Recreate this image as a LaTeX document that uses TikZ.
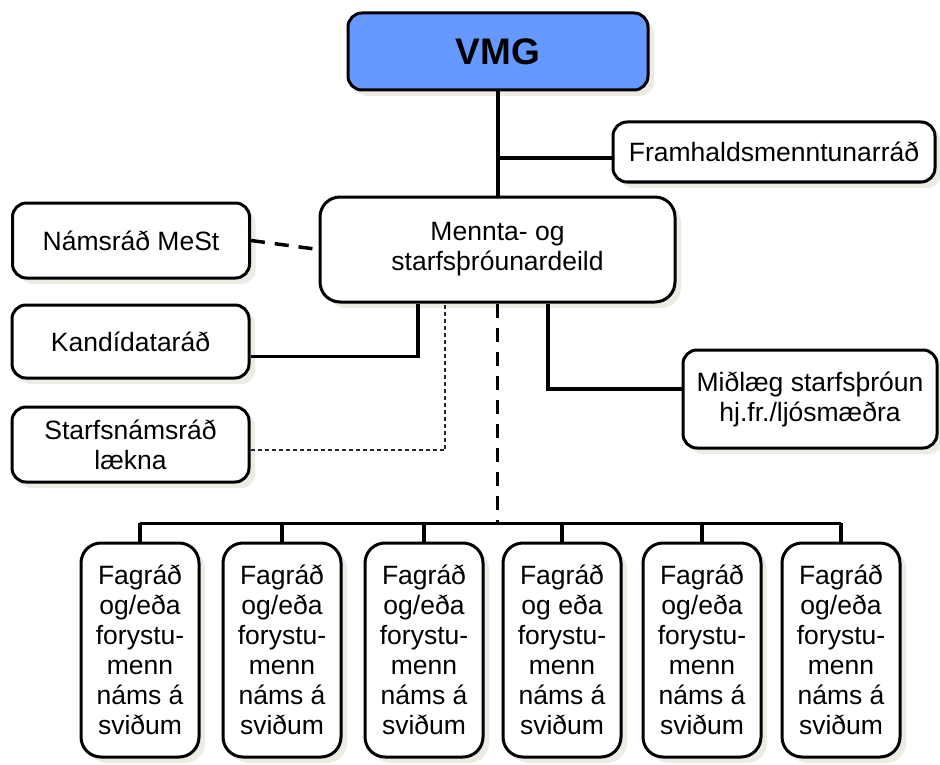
\documentclass[tikz,border=0pt]{standalone}
\usepackage{fontspec}
\setmainfont{Liberation Sans}
\usetikzlibrary{shadows,calc}
\definecolor{vmgblue}{HTML}{6699FF}
\definecolor{shadowc}{HTML}{ECECE4}
\tikzset{
  box/.style={draw=black, line width=3pt, rounded corners=14pt, fill=white,
    align=center, inner sep=0pt, font=\fontsize{26.5}{30}\selectfont,
    drop shadow={shadow xshift=6pt, shadow yshift=-6pt, fill=shadowc, opacity=1}},
  bottombox/.style={box, rounded corners=20pt, minimum width=118pt, minimum height=214pt},
  sidebox/.style={box, minimum width=237pt, minimum height=75pt},
  conn/.style={line width=3.5pt, black},
  bigdash/.style={conn, dash pattern=on 14pt off 10pt},
  thindash/.style={line width=1.2pt, black!85, dash pattern=on 4pt off 3pt},
}
\begin{document}
\begin{tikzpicture}[x=1pt,y=-1pt]
\useasboundingbox (0,0) rectangle (940,765);
% nodes
\node[box, fill=vmgblue, minimum width=300pt, minimum height=77pt,
      font=\fontsize{37}{42}\selectfont\bfseries] (vmg) at (498,51.5) {VMG};
\node[box, minimum width=322pt, minimum height=60pt] (fram) at (774,152) {Framhaldsmenntunarráð};
\node[box, rounded corners=20pt, minimum width=355pt, minimum height=105pt] (mennta) at (497.5,249.5) {Mennta- og\\starfsþróunardeild};
\node[sidebox] (namsrad) at (131,240.5) {Námsráð MeSt};
\node[sidebox, minimum height=73pt] (kand) at (130.5,341.5) {Kandídataráð};
\node[sidebox] (starfs) at (130.5,444.5) {Starfsnámsráð\\lækna};
\node[box, minimum width=254pt, minimum height=98pt] (midl) at (810,399) {Miðlæg starfsþróun\\hj.fr./ljósmæðra};
\node[bottombox] (b1) at (140,650) {Fagráð\\og/eða\\forystu-\\menn\\náms á\\sviðum};
\node[bottombox] (b2) at (282,650) {Fagráð\\og/eða\\forystu-\\menn\\náms á\\sviðum};
\node[bottombox] (b3) at (424,650) {Fagráð\\og/eða\\forystu-\\menn\\náms á\\sviðum};
\node[bottombox] (b4) at (562,650) {Fagráð\\og eða\\forystu-\\menn\\náms á\\sviðum};
\node[bottombox] (b5) at (702,650) {Fagráð\\og/eða\\forystu-\\menn\\náms á\\sviðum};
\node[bottombox] (b6) at (841,650) {Fagráð\\og/eða\\forystu-\\menn\\náms á\\sviðum};
\coordinate (busL) at (140,523);
\coordinate (busR) at (841,523);
% connectors
\draw[conn] (vmg.south) -- (vmg.south |- mennta.north);
\draw[conn] ([yshift=-6pt]fram.west) -- ([yshift=-6pt]fram.west -| vmg.south);
\draw[bigdash] (namsrad.east) -- (mennta.west);
\draw[conn] ([yshift=-15pt]kand.east) -| ([xshift=-79.5pt]mennta.south);
\draw[thindash] ([yshift=-5.5pt]starfs.east) -| ([xshift=-52.5pt]mennta.south);
\draw[conn] ([yshift=10pt]midl.west) -| ([xshift=50.5pt]mennta.south);
\draw[bigdash] (mennta.south) -- (mennta.south |- busL);
\draw[conn, line width=3pt] (busL) -- (busR);
\foreach \b in {b1,b2,b3,b4,b5,b6}{
  \draw[conn] (\b.north) -- (\b.north |- busL);
}
\end{tikzpicture}
\end{document}
